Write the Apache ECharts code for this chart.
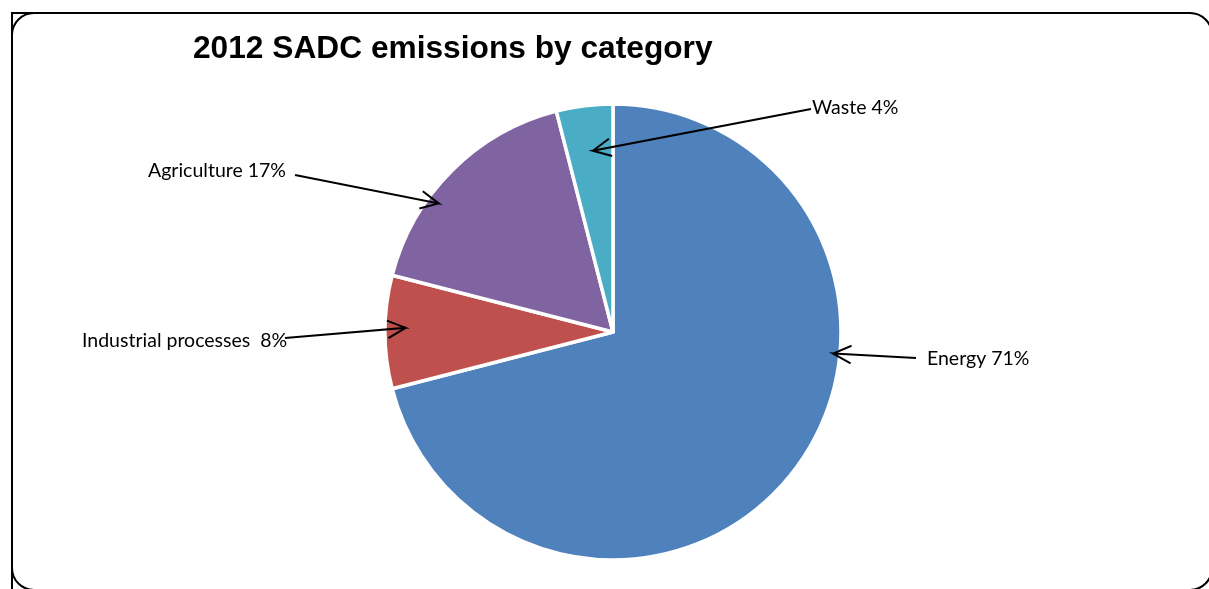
<!DOCTYPE html>
<html>
<head>
<meta charset="utf-8">
<script src="https://cdn.jsdelivr.net/npm/echarts@6/dist/echarts.min.js"></script>
<style>
  html, body { margin: 0; padding: 0; background: #fff; }
  #chart { width: 1209px; height: 589px; }
</style>
</head>
<body>
<div id="chart"></div>
<script>
// data
const categories = ['Energy', 'Industrial processes ', 'Agriculture', 'Waste'];
const shares = [71, 8, 17, 4];
const sliceColors = ['#4F81BD', '#C0504D', '#8064A2', '#4BACC6'];

// layout of the pie and the arrow labels
const center = [613, 332];
const radius = 228;
const labelAt = [[927, 359, 'left'], [82, 341, 'left'], [286, 171, 'right'], [812, 108, 'left']];
const lineFrom = [[916, 358], [285, 338], [295, 175], [811, 109]];
const tipAcross = [0.374, 0.54, 0.36, 0.56]; // where in the slice the arrow points
const tipDepth = [0.97, 0.91, 0.95, 0.80];   // fraction of radius

const total = shares.reduce((a, b) => a + b, 0);

// arrow from the label to a point inside its slice, with an open head
function arrowPoints(i) {
  let before = 0;
  for (let k = 0; k < i; k++) before += shares[k];
  const a = (before + shares[i] * tipAcross[i]) / total * 2 * Math.PI;
  const r = radius * tipDepth[i];
  const tip = [center[0] + r * Math.sin(a), center[1] - r * Math.cos(a)];
  const from = lineFrom[i];
  const back = Math.atan2(from[1] - tip[1], from[0] - tip[0]);
  const len = 20, spread = 26 * Math.PI / 180;
  const w1 = [tip[0] + len * Math.cos(back + spread), tip[1] + len * Math.sin(back + spread)];
  const w2 = [tip[0] + len * Math.cos(back - spread), tip[1] + len * Math.sin(back - spread)];
  return [from, tip, w1, tip, w2];
}

const arrows = categories.map((c, i) => ({
  type: 'polyline',
  z: 100,
  shape: { points: arrowPoints(i) },
  style: { fill: null, stroke: '#000', lineWidth: 2, lineJoin: 'miter' }
}));

const chart = echarts.init(document.getElementById('chart'));
chart.setOption({
  animation: false,
  backgroundColor: '#fff',
  title: {
    text: '2012 SADC emissions by category',
    left: 188,
    top: 28,
    textStyle: { fontFamily: 'Liberation Sans', fontWeight: 'bold', fontSize: 31.7, color: '#000' }
  },
  graphic: [
    {
      type: 'rect',
      shape: { x: 12, y: 13, width: 1200, height: 577, r: 22 },
      style: { fill: null, stroke: '#000', lineWidth: 2 }
    },
    {
      type: 'polyline',
      shape: { points: [[12, 589], [12, 13], [40, 13]] },
      style: { fill: null, stroke: '#000', lineWidth: 2 }
    }
  ].concat(arrows),
  series: [
    {
      type: 'pie',
      center: center,
      radius: radius,
      startAngle: 90,
      clockwise: true,
      data: categories.map((name, i) => ({ name: name, value: shares[i] })),
      itemStyle: {
        color: (p) => sliceColors[p.dataIndex],
        borderColor: '#fff',
        borderWidth: 3.5
      },
      emphasis: { disabled: true },
      label: {
        show: true,
        position: 'outside',
        formatter: (p) => p.name + ' ' + p.value + '%',
        fontFamily: 'Lato',
        fontSize: 19.5,
        color: '#000'
      },
      labelLine: { show: false },
      labelLayout: (p) => {
        const i = p.dataIndex;
        return {
          x: labelAt[i][0],
          y: labelAt[i][1],
          align: labelAt[i][2],
          verticalAlign: 'middle'
        };
      }
    }
  ]
});
</script>
</body>
</html>
